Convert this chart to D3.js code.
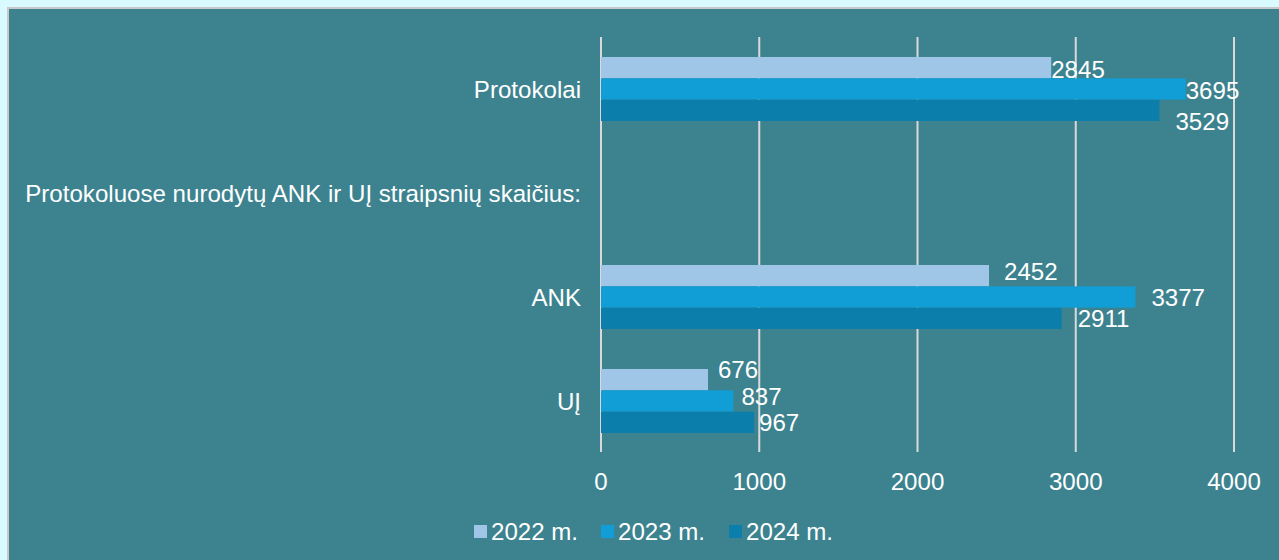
<!DOCTYPE html>
<html>
<head>
<meta charset="utf-8">
<script src="https://cdn.jsdelivr.net/npm/d3@7"></script>
<style>
  html, body { margin: 0; padding: 0; background: #D9FAFE; }
  svg { display: block; }
</style>
</head>
<body>
<div id="chart"></div>
<script>
// DATA
const categories = ["Protokolai", "Protokoluose nurodytų ANK ir UĮ straipsnių skaičius:", "ANK", "UĮ"];
const seriesNames = ["2022 m.", "2023 m.", "2024 m."];
const values2022 = [2845, null, 2452, 676];
const values2023 = [3695, null, 3377, 837];
const values2024 = [3529, null, 2911, 967];
const xTicks = [0, 1000, 2000, 3000, 4000];

const seriesColors = ["#A0C6E7", "#119ED6", "#0B7EAB"];

// label nudges (px) mimicking the original label placement
const labelShift = [
    [[0, 2], [0, 1], [16, 11]],
    [[0, 0], [0, 0], [0, 0]],
    [[15, -4], [16, 0], [16, 0]],
    [[10, -10], [8, -5], [5, 0]]
];

const W = 1279, H = 560;
const fontFamily = "'Liberation Sans', Arial, sans-serif";
const fontSize = 24.1;

const svg = d3.select("#chart").append("svg")
    .attr("width", W)
    .attr("height", H);

// Panel background
svg.append("rect")
    .attr("x", 8).attr("y", 8)
    .attr("width", W + 10).attr("height", H + 10)
    .attr("fill", "#3D838F")
    .attr("stroke", "#C9C9C9")
    .attr("stroke-width", 2);

const x = d3.scaleLinear()
    .domain([0, 4000])
    .range([601, 1234]);

const y = d3.scaleBand()
    .domain(categories)
    .range([37, 453]);

const ySub = d3.scaleBand()
    .domain(seriesNames)
    .range([20, y.bandwidth() - 20]);

// Gridlines
svg.append("g")
    .selectAll("line")
    .data(xTicks)
    .join("line")
    .attr("x1", d => x(d))
    .attr("x2", d => x(d))
    .attr("y1", 37)
    .attr("y2", 452)
    .attr("stroke", "#D9D9D9")
    .attr("stroke-width", 2);

// Tick labels
svg.append("g")
    .selectAll("text")
    .data(xTicks)
    .join("text")
    .attr("x", d => x(d))
    .attr("y", 481)
    .attr("text-anchor", "middle")
    .attr("dominant-baseline", "central")
    .attr("font-family", fontFamily)
    .attr("font-size", fontSize)
    .attr("fill", "#FFFFFF")
    .text(d => d);

// Category labels
svg.append("g")
    .selectAll("text")
    .data(categories)
    .join("text")
    .attr("x", 581)
    .attr("y", d => y(d) + y.bandwidth() / 2)
    .attr("text-anchor", "end")
    .attr("dominant-baseline", "central")
    .attr("font-family", fontFamily)
    .attr("font-size", fontSize)
    .attr("fill", "#FFFFFF")
    .text(d => d);

// Bars
const allSeries = [values2022, values2023, values2024];
const barData = [];
categories.forEach((c, ci) => {
    seriesNames.forEach((s, si) => {
        const v = allSeries[si][ci];
        if (v == null) return;
        barData.push({ cat: c, ci: ci, series: s, si: si, value: v });
    });
});

svg.append("g")
    .selectAll("rect")
    .data(barData)
    .join("rect")
    .attr("x", x(0))
    .attr("y", d => y(d.cat) + ySub(d.series))
    .attr("width", d => x(d.value) - x(0))
    .attr("height", ySub.bandwidth())
    .attr("fill", d => seriesColors[d.si]);

// Value labels
svg.append("g")
    .selectAll("text")
    .data(barData)
    .join("text")
    .attr("x", d => x(d.value) + labelShift[d.ci][d.si][0])
    .attr("y", d => y(d.cat) + ySub(d.series) + ySub.bandwidth() / 2 + labelShift[d.ci][d.si][1])
    .attr("dominant-baseline", "central")
    .attr("font-family", fontFamily)
    .attr("font-size", fontSize)
    .attr("fill", "#FFFFFF")
    .text(d => d.value);

// Legend
const legendX = [474, 601, 729];
const legend = svg.append("g")
    .selectAll("g")
    .data(seriesNames)
    .join("g")
    .attr("transform", (d, i) => `translate(${legendX[i]}, 531)`);

legend.append("rect")
    .attr("x", 0)
    .attr("y", -6)
    .attr("width", 13)
    .attr("height", 13)
    .attr("fill", (d, i) => seriesColors[i]);

legend.append("text")
    .attr("x", 17)
    .attr("y", 0)
    .attr("dominant-baseline", "central")
    .attr("font-family", fontFamily)
    .attr("font-size", fontSize)
    .attr("fill", "#FFFFFF")
    .text(d => d);
</script>
</body>
</html>
